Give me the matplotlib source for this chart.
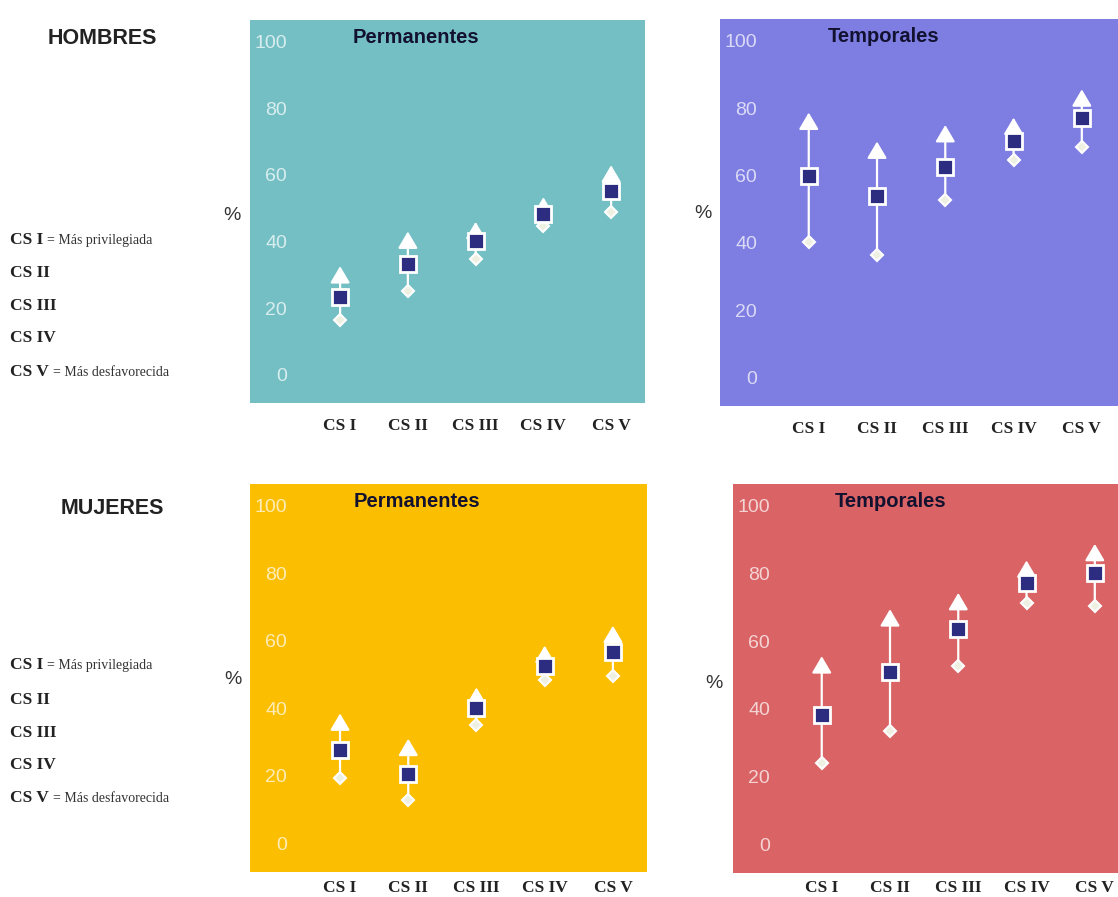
import matplotlib
matplotlib.use("Agg")
import matplotlib.pyplot as plt

# categories
clases = ["CS I", "CS II", "CS III", "CS IV", "CS V"]

# estimate (square), lower bound (diamond), upper bound (arrow tip), in %
h_perm_est = [23.4, 33.3, 40.0, 48.2, 55.1]
h_perm_low = [16.5, 25.2, 34.8, 44.7, 48.7]
h_perm_up = [32.6, 43.0, 45.9, 53.3, 62.9]

h_temp_est = [59.8, 53.8, 62.4, 70.3, 77.2]
h_temp_low = [40.3, 36.3, 52.8, 64.7, 68.5]
h_temp_up = [78.7, 70.1, 75.0, 77.2, 85.6]

m_perm_est = [27.8, 20.6, 40.0, 52.7, 56.7]
m_perm_low = [19.3, 12.9, 35.2, 48.4, 49.6]
m_perm_up = [38.5, 31.0, 46.2, 58.6, 64.5]

m_temp_est = [38.3, 50.9, 63.6, 77.2, 80.1]
m_temp_low = [24.0, 33.6, 52.7, 71.2, 70.5]
m_temp_up = [55.6, 69.5, 74.3, 83.9, 88.8]

yticks = [0, 20, 40, 60, 80, 100]

W, H = 1118, 897
fig = plt.figure(figsize=(W / 100, H / 100), dpi=100)
fig.patch.set_facecolor("white")


def box(left, top, right, bottom):
    return [left / W, 1 - bottom / H, (right - left) / W, (bottom - top) / H]


panels = [
    # axes box px, colour, title, data, xlim, x label pad
    (box(250, 20, 645, 403), "#74bfc4", "Permanentes",
     (h_perm_est, h_perm_low, h_perm_up), (-1.33, 4.5), 11),
    (box(720, 19, 1118, 406), "#7e7de2", "Temporales",
     (h_temp_est, h_temp_low, h_temp_up), (-1.30, 4.53), 11),
    (box(250, 484, 647, 872), "#fbbe00", "Permanentes",
     (m_perm_est, m_perm_low, m_perm_up), (-1.32, 4.5), 5.5),
    (box(733, 484, 1118, 873), "#d96365", "Temporales",
     (m_temp_est, m_temp_low, m_temp_up), (-1.30, 4.34), 5),
]

for rect, color, title, (est, low, up), xlim, xpad in panels:
    ax = fig.add_axes(rect)
    ax.set_facecolor(color)
    for s in ax.spines.values():
        s.set_visible(False)
    ax.set_xlim(*xlim)
    ax.set_ylim(-8.5, 106.5)
    xs = list(range(len(clases)))
    for x, lo, hi in zip(xs, low, up):
        ax.annotate("", xy=(x, hi), xytext=(x, lo),
                    arrowprops=dict(arrowstyle="-|>,head_length=0.85,head_width=0.5",
                                    mutation_scale=12, color="white", lw=1.6,
                                    shrinkA=0, shrinkB=0), zorder=2)
    ax.plot(xs, low, linestyle="none", marker="D", markersize=6.5, zorder=4,
            markerfacecolor="#eef0e2", markeredgecolor="white", markeredgewidth=1.5)
    ax.plot(xs, est, linestyle="none", marker="s", markersize=11, zorder=5,
            markerfacecolor="#2c2c80", markeredgecolor="white", markeredgewidth=2)
    ax.set_yticks(yticks)
    ax.set_yticklabels([str(v) for v in yticks], family="Liberation Sans",
                       fontsize=14, color="white", alpha=0.72)
    ax.tick_params(axis="y", length=0, pad=-26.6)
    ax.set_xticks(xs)
    ax.set_xticklabels(clases, family="Liberation Serif", fontweight="bold",
                       fontsize=12.5, color="#222222")
    ax.tick_params(axis="x", length=0, pad=xpad)
    ax.text(0.42 if title == "Permanentes" else 0.41, 0.955, title,
            transform=ax.transAxes, ha="center", va="center",
            family="Liberation Sans", fontweight="bold", fontsize=14.5, color="#121230")

# "%" labels
for x, y in [(232, 215), (703, 213), (233, 680), (714, 683)]:
    fig.text(x / W, 1 - y / H, "%", ha="center", va="center",
             family="Liberation Sans", fontsize=14, color="#333333")

# group headings
fig.text(102 / W, 1 - 39 / H, "HOMBRES", ha="center", va="center",
         family="Liberation Sans", fontweight="bold", fontsize=15.5, color="#222222")
fig.text(112 / W, 1 - 508 / H, "MUJERES", ha="center", va="center",
         family="Liberation Sans", fontweight="bold", fontsize=15.5, color="#222222")

# side legends
notas = {0: "= Más privilegiada", 4: "= Más desfavorecida"}
renderer = fig.canvas.get_renderer()
for ys in ([240, 273, 306, 338, 372], [665, 700, 733, 765, 798]):
    for i, (lab, y) in enumerate(zip(clases, ys)):
        t = fig.text(10 / W, 1 - y / H, lab, ha="left", va="center",
                     family="Liberation Serif", fontweight="bold",
                     fontsize=12.5, color="#222222")
        if i in notas:
            bb = t.get_window_extent(renderer)
            fig.text((bb.x1 + 4) / W, 1 - y / H, notas[i], ha="left", va="center",
                     family="Liberation Serif", fontsize=10, color="#333333")

fig.savefig("out.png", dpi=100)
